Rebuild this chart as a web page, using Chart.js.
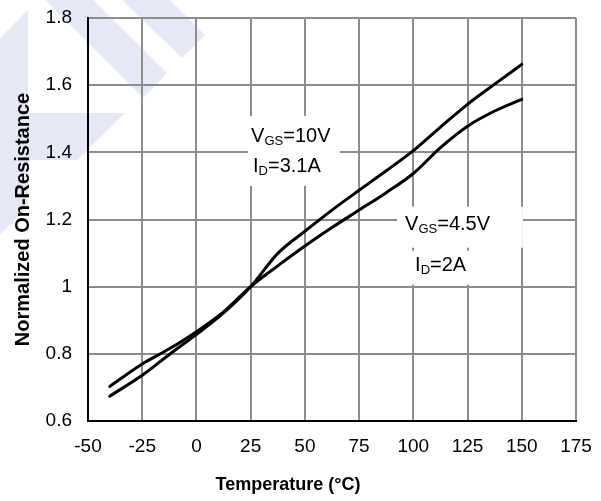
<!DOCTYPE html>
<html>
<head>
<meta charset="utf-8">
<script src="https://cdn.jsdelivr.net/npm/chart.js@4.4.1/dist/chart.umd.min.js"></script>
<style>
html,body{margin:0;padding:0;background:#fff;}
#wrap{width:601px;height:501px;position:relative;}
</style>
</head>
<body>
<div id="wrap"><canvas id="c" width="601" height="501"></canvas></div>
<script>
// ---- data ----
const temperatureC = [-40, -25, -12.5, 0, 12.5, 25, 37.5, 50, 62.5, 75, 87.5, 100, 112.5, 125, 137.5, 150];
const rdsOnVgs10V  = [0.674, 0.736, 0.798, 0.858, 0.922, 1.0, 1.099, 1.165, 1.228, 1.287, 1.345, 1.405, 1.475, 1.543, 1.603, 1.662];
const rdsOnVgs4V5  = [0.703, 0.770, 0.815, 0.866, 0.925, 1.0, 1.062, 1.121, 1.176, 1.228, 1.280, 1.337, 1.414, 1.478, 1.523, 1.558];
const xTickValues  = [-50, -25, 0, 25, 50, 75, 100, 125, 150, 175];
const yTickValues  = [0.6, 0.8, 1.0, 1.2, 1.4, 1.6, 1.8];
const yTickLabels  = ['0.6', '0.8', '1', '1.2', '1.4', '1.6', '1.8'];
const xAxisTitle = 'Temperature (°C)';
const yAxisTitle = 'Normalized On-Resistance';

// ---- annotation text (label boxes) ----
const labelBoxes = [
  {x0: 23.8, x1: 66.2, y0: 1.300, y1: 1.508},
  {x0: 92.5, x1: 150.5, y0: 1.116, y1: 1.238},
  {x0: 93.9, x1: 130.8, y0: 1.006, y1: 1.107}
];
const labelTexts = [
  {x: 25.2,  y: 1.4316, main: 'V', sub: 'GS', rest: '=10V'},
  {x: 26.1,  y: 1.3425, main: 'I', sub: 'D',  rest: '=3.1A'},
  {x: 96.2,  y: 1.1673, main: 'V', sub: 'GS', rest: '=4.5V'},
  {x: 100.8, y: 1.0476, main: 'I', sub: 'D',  rest: '=2A'}
];

const FONT = "'Liberation Sans', Arial, Helvetica, sans-serif";

const watermark = {
  id: 'watermark',
  beforeDraw(chart) {
    const ctx = chart.ctx;
    ctx.save();
    ctx.fillStyle = '#e4e9f5';
    const polys = [
      [[0,38],[28,10],[28,113],[125,113],[77,160],[28,160],[28,207],[0,235]],
      [[45,0],[93,0],[167,73],[143,98]],
      [[122,0],[170,0],[205,35],[182,58]]
    ];
    polys.forEach(p => {
      ctx.beginPath();
      p.forEach((pt, i) => i ? ctx.lineTo(pt[0], pt[1]) : ctx.moveTo(pt[0], pt[1]));
      ctx.closePath();
      ctx.fill();
    });
    ctx.restore();
  }
};

const annotations = {
  id: 'annotations',
  beforeDatasetsDraw(chart) {
    const ctx = chart.ctx, xs = chart.scales.x, ys = chart.scales.y;
    ctx.save();
    ctx.fillStyle = '#ffffff';
    labelBoxes.forEach(b => {
      const l = xs.getPixelForValue(b.x0), r = xs.getPixelForValue(b.x1);
      const t = ys.getPixelForValue(b.y1), btm = ys.getPixelForValue(b.y0);
      ctx.fillRect(l, t, r - l, btm - t);
    });
    ctx.restore();
  },
  afterDatasetsDraw(chart) {
    const ctx = chart.ctx, xs = chart.scales.x, ys = chart.scales.y;
    ctx.save();
    ctx.fillStyle = '#000';
    ctx.textBaseline = 'alphabetic';
    ctx.textAlign = 'left';
    labelTexts.forEach(t => {
      let x = xs.getPixelForValue(t.x);
      const y = ys.getPixelForValue(t.y);
      ctx.font = '20px ' + FONT;
      ctx.fillText(t.main, x, y);
      x += ctx.measureText(t.main).width;
      ctx.font = '13px ' + FONT;
      ctx.fillText(t.sub, x, y + 3);
      x += ctx.measureText(t.sub).width;
      ctx.font = '20px ' + FONT;
      ctx.fillText(t.rest, x, y);
    });
    ctx.restore();
  },
  afterDraw(chart) {
    const ctx = chart.ctx;
    ctx.save();
    ctx.fillStyle = '#000';
    ctx.font = 'bold 18px ' + FONT;
    ctx.textAlign = 'center';
    ctx.textBaseline = 'middle';
    ctx.fillText(xAxisTitle, 288, 485);
    ctx.restore();
  }
};

const toPoints = (xs, ys) => xs.map((x, i) => ({x: x, y: ys[i]}));

new Chart(document.getElementById('c'), {
  type: 'line',
  data: {
    datasets: [
      {label: 'VGS=10V', data: toPoints(temperatureC, rdsOnVgs10V)},
      {label: 'VGS=4.5V', data: toPoints(temperatureC, rdsOnVgs4V5)}
    ].map(d => Object.assign(d, {
      borderColor: '#000', borderWidth: 3, pointRadius: 0, fill: false,
      cubicInterpolationMode: 'monotone', borderCapStyle: 'round', borderJoinStyle: 'round'
    }))
  },
  options: {
    responsive: false,
    devicePixelRatio: 1,
    animation: false,
    events: [],
    layout: {padding: {top: 18, right: 25, left: 0, bottom: 0}},
    plugins: {legend: {display: false}, tooltip: {enabled: false}},
    scales: {
      x: {
        type: 'linear', min: -50, max: 175,
        afterBuildTicks: s => { s.ticks = xTickValues.map(v => ({value: v})); },
        afterFit: s => { s.height = 80; s.paddingLeft = 0; s.paddingRight = 0; },
        ticks: {color: '#000', font: {family: FONT, size: 19}, padding: 14, maxRotation: 0, autoSkip: false},
        grid: {color: '#8c8c8c', lineWidth: 2, drawTicks: false},
        border: {color: '#000', width: 2},
        title: {display: false}
      },
      y: {
        type: 'linear', min: 0.6, max: 1.8,
        afterBuildTicks: s => { s.ticks = yTickValues.map(v => ({value: v})); },
        afterFit: s => { s.width = 88; s.paddingTop = 0; s.paddingBottom = 0; },
        ticks: {color: '#000', font: {family: FONT, size: 19}, padding: 16,
                callback: (v, i) => yTickLabels[i]},
        grid: {color: '#8c8c8c', lineWidth: 2, drawTicks: false},
        border: {color: '#000', width: 2},
        title: {display: true, text: yAxisTitle, color: '#000',
                font: {family: FONT, size: 20, weight: 'bold'}, padding: {top: 11, bottom: 0}}
      }
    }
  },
  plugins: [watermark, annotations]
});
</script>
</body>
</html>
